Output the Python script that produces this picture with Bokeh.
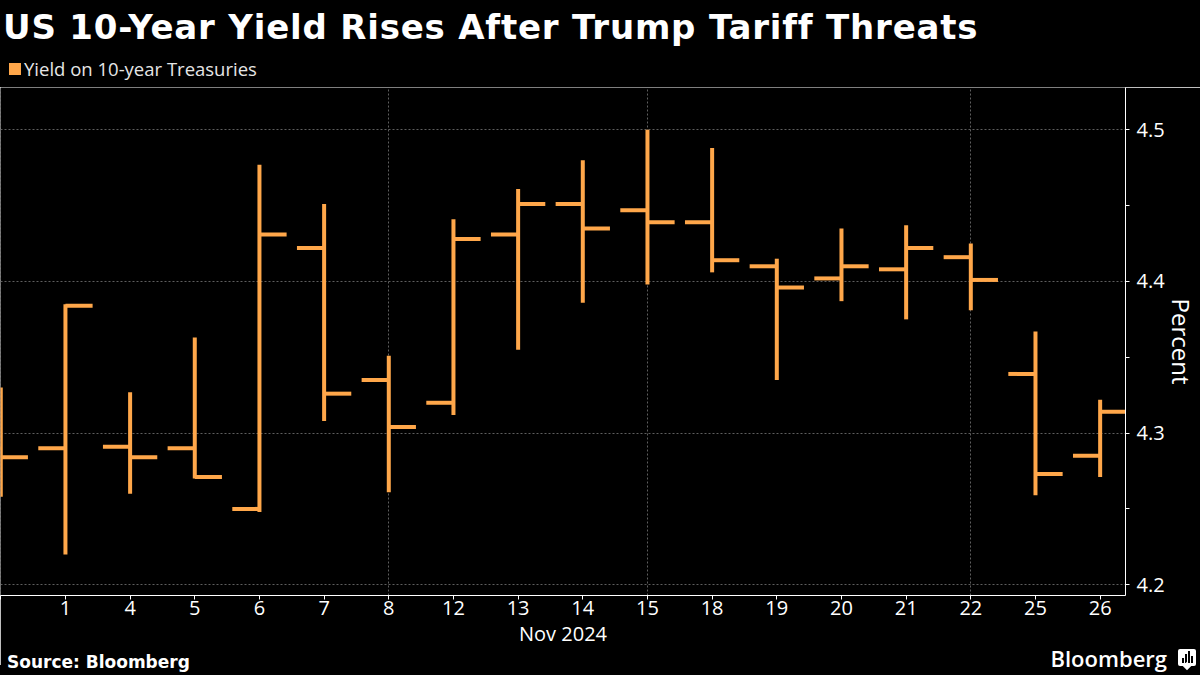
import numpy as np
from bokeh.plotting import figure
from bokeh.layouts import column
from bokeh.models import Range1d, FixedTicker, Div
from bokeh.embed import file_html
from bokeh.resources import INLINE

# ---------------- data ----------------
days = ["Oct 31", "Nov 1", "Nov 4", "Nov 5", "Nov 6", "Nov 7", "Nov 8", "Nov 12", "Nov 13",
        "Nov 14", "Nov 15", "Nov 18", "Nov 19", "Nov 20", "Nov 21", "Nov 22", "Nov 25", "Nov 26"]
tick_labels = ["", "1", "4", "5", "6", "7", "8", "12", "13", "14", "15", "18", "19", "20",
               "21", "22", "25", "26"]
open_ = [4.290, 4.290, 4.291, 4.290, 4.250, 4.422, 4.335, 4.320, 4.431, 4.451, 4.447, 4.439,
         4.410, 4.402, 4.408, 4.416, 4.339, 4.285]
high = [4.330, 4.385, 4.327, 4.363, 4.477, 4.451, 4.351, 4.441, 4.461, 4.480, 4.500, 4.488,
        4.415, 4.435, 4.437, 4.425, 4.367, 4.322]
low = [4.258, 4.220, 4.260, 4.270, 4.248, 4.308, 4.261, 4.312, 4.355, 4.386, 4.398, 4.406,
       4.335, 4.387, 4.375, 4.381, 4.259, 4.271]
close = [4.284, 4.384, 4.284, 4.271, 4.431, 4.326, 4.304, 4.428, 4.451, 4.435, 4.439, 4.414,
         4.396, 4.410, 4.422, 4.401, 4.273, 4.314]
y_ticks = [4.2, 4.3, 4.4, 4.5]
y_minor = [4.25, 4.35, 4.45]
week_grid = [0, 6, 10, 15]

title_text = "US 10-Year Yield Rises After Trump Tariff Threats"
legend_text = "Yield on 10-year Treasuries"
x_label = "Nov 2024"
y_label = "Percent"
source_text = "Source: Bloomberg"
brand_text = "Bloomberg"

# ---------------- style ----------------
ORANGE = "#FFA74A"
GRID = "#5e5e5e"
FONT = "Open Sans"
TITLE_FONT = "DejaVu Sans"
BG = "black"
W = 1200
HEADER_H = 87
FRAME_H = 508
MAIN_BOTTOM = 70
MAIN_H = FRAME_H + MAIN_BOTTOM
FOOTER_TOP = 640
FOOTER_H = 675 - FOOTER_TOP
FOOTER_SHIFT = HEADER_H + MAIN_H - FOOTER_TOP   # overlap with the chart's empty bottom strip

# ---------------- header ----------------
header_html = (
    f'<div style="position:relative;width:{W}px;height:{HEADER_H}px;background:{BG};">'
    f'<div style="position:absolute;left:3px;top:3px;font-family:\'{TITLE_FONT}\';'
    f'font-weight:bold;font-size:34px;letter-spacing:0.8px;color:white;'
    f'white-space:nowrap;">{title_text}</div>'
    f'<div style="position:absolute;left:9px;top:63px;width:12px;height:12px;'
    f'background:{ORANGE};"></div>'
    f'<div style="position:absolute;left:24px;top:56px;font-family:\'{FONT}\';'
    f'font-size:18.5px;color:#e6e6e6;white-space:nowrap;">{legend_text}</div>'
    f'</div>'
)
header = Div(text=header_html, width=W, height=HEADER_H, margin=0,
             styles={"background-color": BG})

# ---------------- main chart ----------------
p = figure(width=W, height=MAIN_H, output_backend="svg", toolbar_location=None, title=None,
           x_range=Range1d(-0.0042, 17.392), y_range=Range1d(4.1929, 4.5279),
           y_axis_location="right", background_fill_color=BG, border_fill_color=BG,
           min_border_left=0, min_border_top=0, min_border_right=74,
           min_border_bottom=MAIN_BOTTOM)
p.outline_line_color = None

xs = np.arange(len(days))
TICK = 0.42
p.segment(x0=xs, y0=low, x1=xs, y1=high, line_color=ORANGE, line_width=4, line_cap="butt")
p.segment(x0=xs - TICK, y0=open_, x1=xs, y1=open_, line_color=ORANGE, line_width=4,
          line_cap="butt")
p.segment(x0=xs, y0=close, x1=xs + TICK, y1=close, line_color=ORANGE, line_width=4,
          line_cap="butt")

xa = p.xaxis[0]
xa.ticker = FixedTicker(ticks=list(range(len(days))))
xa.major_label_overrides = {i: t for i, t in enumerate(tick_labels)}
xa.axis_line_color = "white"
xa.major_tick_line_color = "white"
xa.major_tick_out = 4
xa.major_tick_in = 0
xa.minor_tick_line_color = None
xa.major_label_text_color = "white"
xa.major_label_text_font = FONT
xa.major_label_text_font_size = "20px"
xa.major_label_standoff = 1
xa.axis_label = x_label
xa.axis_label_text_font = FONT
xa.axis_label_text_font_style = "normal"
xa.axis_label_text_font_size = "20px"
xa.axis_label_text_color = "white"
xa.axis_label_standoff = 2

ya = p.yaxis[0]
ya.ticker = FixedTicker(ticks=y_ticks, minor_ticks=y_minor)
ya.axis_line_color = "white"
ya.major_tick_line_color = "white"
ya.major_tick_out = 4
ya.major_tick_in = 0
ya.minor_tick_line_color = "white"
ya.minor_tick_out = 4
ya.minor_tick_in = 0
ya.major_label_text_color = "white"
ya.major_label_text_font = FONT
ya.major_label_text_font_size = "20px"
ya.major_label_standoff = 7
ya.axis_label = y_label
ya.axis_label_text_font = FONT
ya.axis_label_text_font_style = "normal"
ya.axis_label_text_font_size = "24px"
ya.axis_label_text_color = "white"
ya.axis_label_standoff = -3

p.ygrid.grid_line_color = GRID
p.ygrid.grid_line_dash = "2 2"
p.ygrid.grid_line_width = 1
p.xgrid.ticker = FixedTicker(ticks=week_grid)
p.xgrid.grid_line_color = GRID
p.xgrid.grid_line_dash = "2 2"
p.xgrid.grid_line_width = 1

# ---------------- footer ----------------
bars = "".join(
    f'<div style="position:absolute;left:{l}px;bottom:3px;width:2px;height:{h}px;'
    f'background:black;"></div>'
    for l, h in [(4, 5), (7, 9), (10, 12), (13, 7)]
)
footer_html = (
    f'<div style="position:relative;width:{W}px;height:{FOOTER_H}px;">'
    f'<div style="position:absolute;left:0;top:{FOOTER_SHIFT}px;width:{W}px;'
    f'height:{FOOTER_H - FOOTER_SHIFT}px;background:{BG};"></div>'
    f'<div style="position:absolute;left:7px;top:10px;font-family:\'{TITLE_FONT}\';'
    f'font-weight:bold;font-size:17px;color:white;white-space:nowrap;">'
    f'{source_text}</div>'
    f'<div style="position:absolute;right:33px;top:3px;font-family:\'{FONT}\';'
    f'font-weight:600;font-size:22px;color:white;white-space:nowrap;">'
    f'{brand_text}</div>'
    f'<div style="position:absolute;left:1178px;top:9px;width:18px;height:17px;'
    f'background:white;border-radius:2px;">{bars}</div>'
    f'<div style="position:absolute;left:1184px;top:23px;width:6px;height:6px;'
    f'background:white;transform:rotate(45deg);"></div>'
    f'</div>'
)
footer = Div(text=footer_html, width=W, height=FOOTER_H, margin=(-FOOTER_SHIFT, 0, 0, 0))

layout = column(header, p, footer, spacing=0)
open("out.html", "w").write(file_html(layout, INLINE))
